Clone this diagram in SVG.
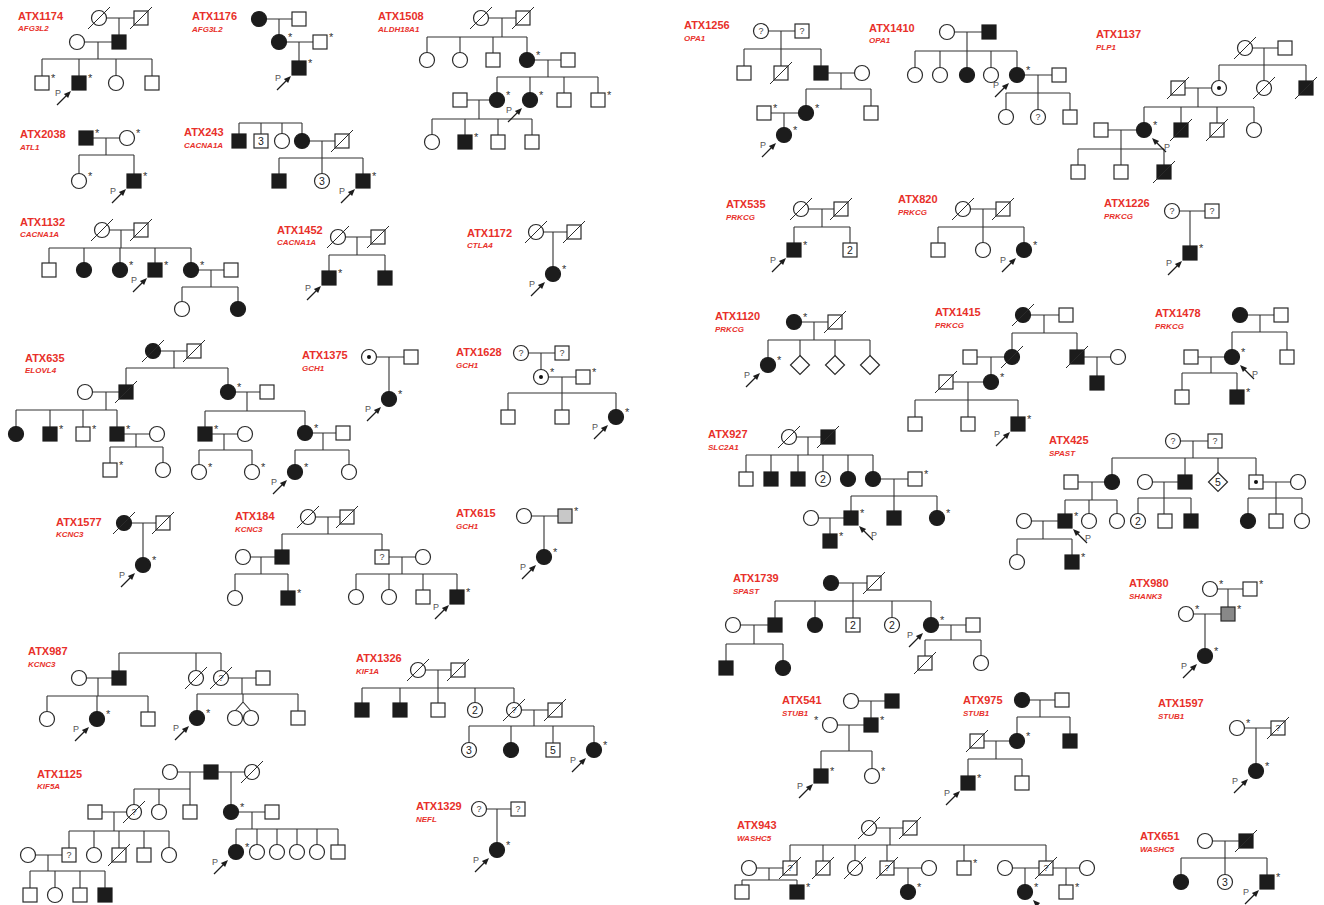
<svg xmlns="http://www.w3.org/2000/svg" xmlns:xlink="http://www.w3.org/1999/xlink" width="1324" height="905" viewBox="0 0 1324 905">
<style>
.o{fill:#fff;stroke:#2a2a2a;stroke-width:1.2}
.k{fill:#1c1c1c;stroke:#1c1c1c;stroke-width:1.2}
.g1{fill:#c8c8c8;stroke:#2a2a2a;stroke-width:1.2}
.g2{fill:#888;stroke:#2a2a2a;stroke-width:1.2}
.sl{stroke:#2a2a2a;stroke-width:1}
.ar{stroke:#1c1c1c;stroke-width:1.2}
.ah{fill:#1c1c1c}
.pt{font-family:"Liberation Sans",Arial,sans-serif;font-size:9px;fill:#555}
.as{font-family:"Liberation Sans",Arial,sans-serif;font-size:11px;fill:#333}
.n{font-family:"Liberation Sans",Arial,sans-serif;font-size:10.5px;fill:#222;text-anchor:middle}
.q{font-family:"Liberation Sans",Arial,sans-serif;font-size:9px;fill:#444;text-anchor:middle}
.t{font-family:"Liberation Sans",Arial,sans-serif;font-size:11px;font-weight:bold;fill:#e8302a}
.ge{font-family:"Liberation Sans",Arial,sans-serif;font-size:8px;font-weight:bold;font-style:italic;fill:#e8302a}
</style>
<defs>
<rect id="m" x="-7" y="-7" width="14" height="14" class="o"/>
<rect id="M" x="-7" y="-7" width="14" height="14" class="k"/>
<circle id="f" r="7.5" class="o"/>
<circle id="F" r="7.5" class="k"/>
<path id="d" d="M0,-9.5L9.5,0L0,9.5L-9.5,0Z" class="o"/>
<line id="x" x1="-11" y1="11" x2="11" y2="-11" class="sl"/>
<circle id="c" r="2" fill="#111"/>
<text id="a" x="9" y="-1" class="as">*</text>
<text id="al" x="-16" y="-1" class="as">*</text>
<g id="p"><line x1="-22" y1="22" x2="-12" y2="12" class="ar"/><path d="M-8,8L-10.9,15.1L-15.1,10.9Z" class="ah"/><text x="-24" y="13" class="pt">P</text></g>
<g id="r"><line x1="22" y1="22" x2="12" y2="12" class="ar"/><path d="M8,8L10.9,15.1L15.1,10.9Z" class="ah"/><text x="20" y="20" class="pt">P</text></g>
</defs>
<rect width="1324" height="905" fill="#fff"/>

<g id="labels">
<text class="t" x="18" y="19.5">ATX1174</text><text class="ge" x="18" y="31">AFG3L2</text>
<text class="t" x="192" y="20">ATX1176</text><text class="ge" x="192" y="31.5">AFG3L2</text>
<text class="t" x="378" y="20">ATX1508</text><text class="ge" x="378" y="31.5">ALDH18A1</text>
<text class="t" x="20" y="138">ATX2038</text><text class="ge" x="20" y="149.5">ATL1</text>
<text class="t" x="184" y="136">ATX243</text><text class="ge" x="184" y="147.5">CACNA1A</text>
<text class="t" x="20" y="225.5">ATX1132</text><text class="ge" x="20" y="237">CACNA1A</text>
<text class="t" x="277" y="233.5">ATX1452</text><text class="ge" x="277" y="245">CACNA1A</text>
<text class="t" x="467" y="236.5">ATX1172</text><text class="ge" x="467" y="248">CTLA4</text>
<text class="t" x="25" y="361.5">ATX635</text><text class="ge" x="25" y="373">ELOVL4</text>
<text class="t" x="302" y="359">ATX1375</text><text class="ge" x="302" y="370.5">GCH1</text>
<text class="t" x="456" y="356">ATX1628</text><text class="ge" x="456" y="367.5">GCH1</text>
<text class="t" x="56" y="525.5">ATX1577</text><text class="ge" x="56" y="537">KCNC3</text>
<text class="t" x="235" y="520">ATX184</text><text class="ge" x="235" y="531.5">KCNC3</text>
<text class="t" x="456" y="517">ATX615</text><text class="ge" x="456" y="528.5">GCH1</text>
<text class="t" x="28" y="655">ATX987</text><text class="ge" x="28" y="666.5">KCNC3</text>
<text class="t" x="37" y="777.5">ATX1125</text><text class="ge" x="37" y="789">KIF5A</text>
<text class="t" x="356" y="662">ATX1326</text><text class="ge" x="356" y="673.5">KIF1A</text>
<text class="t" x="416" y="810">ATX1329</text><text class="ge" x="416" y="821.5">NEFL</text>
<text class="t" x="684" y="29">ATX1256</text><text class="ge" x="684" y="40.5">OPA1</text>
<text class="t" x="869" y="31.5">ATX1410</text><text class="ge" x="869" y="43">OPA1</text>
<text class="t" x="1096" y="38">ATX1137</text><text class="ge" x="1096" y="49.5">PLP1</text>
<text class="t" x="726" y="208">ATX535</text><text class="ge" x="726" y="219.5">PRKCG</text>
<text class="t" x="898" y="203">ATX820</text><text class="ge" x="898" y="214.5">PRKCG</text>
<text class="t" x="1104" y="207">ATX1226</text><text class="ge" x="1104" y="218.5">PRKCG</text>
<text class="t" x="715" y="320">ATX1120</text><text class="ge" x="715" y="331.5">PRKCG</text>
<text class="t" x="935" y="316">ATX1415</text><text class="ge" x="935" y="327.5">PRKCG</text>
<text class="t" x="1155" y="317">ATX1478</text><text class="ge" x="1155" y="328.5">PRKCG</text>
<text class="t" x="708" y="438">ATX927</text><text class="ge" x="708" y="449.5">SLC2A1</text>
<text class="t" x="1049" y="444">ATX425</text><text class="ge" x="1049" y="455.5">SPAST</text>
<text class="t" x="733" y="582">ATX1739</text><text class="ge" x="733" y="593.5">SPAST</text>
<text class="t" x="1129" y="587">ATX980</text><text class="ge" x="1129" y="598.5">SHANK3</text>
<text class="t" x="782" y="704">ATX541</text><text class="ge" x="782" y="715.5">STUB1</text>
<text class="t" x="963" y="704">ATX975</text><text class="ge" x="963" y="715.5">STUB1</text>
<text class="t" x="1158" y="707">ATX1597</text><text class="ge" x="1158" y="718.5">STUB1</text>
<text class="t" x="737" y="829">ATX943</text><text class="ge" x="737" y="840.5">WASHC5</text>
<text class="t" x="1140" y="840">ATX651</text><text class="ge" x="1140" y="851.5">WASHC5</text>
</g>

<g id="connectors" fill="none" stroke="#333" stroke-width="1.1">
<path d="M99,18H141M119,18V42M77,42H119M98,42V59M42,59H152M42,59V83M79,59V83M116,59V83M152,59V83"/>
<path d="M259,19H299M279,19V42M279,42H320M299,42V68"/>
<path d="M86,138H127M106,138V155M79,155H134M79,155V181M134,155V181"/>
<path d="M239,123H302M239,123V141M261,123V141M282,123V141M302,123V141M302,141H342M322,141V158M279,158H363M279,158V181M322,158V181M363,158V181"/>
<path d="M481,18H523M502,18V37M427,37H527M427,37V60M460,37V60M493,37V60M527,37V60M527,60H568M548,60V77M497,77H598M497,77V100M530,77V100M564,77V100M598,77V100M460,100H497M479,100V119M432,119H532M432,119V142M465,119V142M498,119V142M532,119V142"/>
<path d="M102,230H141M121,230V248M49,248H191M49,248V270M84,248V270M120,248V270M155,248V270M191,248V270M191,270H231M211,270V287M182,287H238M182,287V309M238,287V309"/>
<path d="M338,237H378M357,237V255M329,255H385M329,255V278M385,255V278"/>
<path d="M536,232H574M553,232V274"/>
<path d="M153,351H194M174,351V368M126,368H228M126,368V392M228,368V392M85,392H126M106,392V410M16,410H117M16,410V434M50,410V434M83,410V434M117,410V434M228,392H267M247,392V411M205,411H305M205,411V434M305,411V433M117,434H157M136,434V447M110,447H163M110,447V470M163,447V470M205,434H245M224,434V450M199,450H252M199,450V472M252,450V472M305,433H343M323,433V450M295,450H349M295,450V472M349,450V472"/>
<path d="M369,357H411M389,357V399"/>
<path d="M521,353H562M541,353V377M541,377H583M562,377V393M508,393H616M508,393V417M562,393V417M616,393V417"/>
<path d="M124,523H163M143,523V565"/>
<path d="M308,517H347M328,517V534M282,534H382M282,534V557M382,534V557M243,557H282M261,557V574M235,574H288M235,574V598M288,574V598M382,557H423M402,557V574M356,574H457M356,574V597M389,574V597M423,574V597M457,574V597"/>
<path d="M524,516H565M544,516V557"/>
<path d="M119,653H221M119,653V678M196,653V678M221,653V678M79,678H119M98,678V696M47,696H148M47,696V719M97,696V719M148,696V719M221,678H263M242,678V694M197,694H298M197,694V718M298,694V718M243,694V702L235,711M243,702L251,711"/>
<path d="M170,772H252M190,772V812M134,789H190M134,789V812M159,789V812M95,812H134M114,812V831M69,831H169M69,831V855M94,831V855M119,831V855M144,831V855M169,831V855M28,855H69M48,855V871M30,871H105M30,871V895M55,871V895M80,871V895M105,871V895M231,772V812M231,812H272M252,812V829M236,829H338M236,829V852M257,829V852M277,829V852M297,829V852M317,829V852M338,829V852"/>
<path d="M418,670H458M438,670V688M362,688H514M362,688V710M400,688V710M438,688V710M475,688V710M514,688V710M514,710H555M534,710V726M469,726H594M469,726V750M511,726V750M553,726V750M594,726V750"/>
<path d="M479,809H518M497,809V850"/>
<path d="M761,31H802M781,31V73M744,49H821M744,49V73M821,49V73M821,73H862M841,73V89M806,89H871M806,89V113M871,89V113M764,113H806M784,113V135"/>
<path d="M947,32H989M967,32V75M915,51H1017M915,51V75M940,51V75M991,51V75M1017,51V75M1017,75H1059M1038,75V117M1006,93H1070M1006,93V117M1070,93V117"/>
<path d="M1245,48H1285M1264,48V88M1219,65H1306M1219,65V88M1306,65V88M1178,88H1219M1198,88V107M1144,107H1254M1144,107V130M1181,107V130M1217,107V130M1254,107V130M1101,130H1144M1121,130V172M1078,149H1164M1078,149V172M1164,149V172"/>
<path d="M801,209H841M822,209V227M794,227H850M794,227V250M850,227V250"/>
<path d="M963,209H1003M983,209V250M938,227H1024M938,227V250M1024,227V250"/>
<path d="M1172,211H1212M1190,211V253"/>
<path d="M794,322H835M814,322V340M768,340H870M768,340V365M800,340V365M835,340V365M870,340V365"/>
<path d="M1023,315H1066M1044,315V333M1012,333H1077M1012,333V357M1077,333V357M970,357H1012M991,357V382M1077,357H1118M1097,357V383M946,382H991M968,382V424M915,400H1018M915,400V424M1018,400V424"/>
<path d="M1240,315H1281M1260,315V332M1232,332H1287M1232,332V357M1287,332V357M1191,357H1232M1211,357V373M1182,373H1237M1182,373V397M1237,373V397"/>
<path d="M789,437H828M808,437V455M746,455H873M746,455V479M771,455V479M798,455V479M823,455V479M848,455V479M873,455V479M873,479H915M894,479V518M851,496H937M851,496V518M937,496V518M811,518H851M830,518V541"/>
<path d="M1173,441H1215M1193,441V458M1112,458H1256M1112,458V482M1185,458V482M1218,458V482M1256,458V482M1071,482H1112M1092,482V500M1065,500H1117M1065,500V521M1089,500V521M1117,500V521M1024,521H1065M1043,521V539M1017,539H1072M1017,539V562M1072,539V562M1145,482H1185M1164,482V521M1138,498H1191M1138,498V521M1191,498V521M1256,482H1298M1276,482V521M1248,498H1302M1248,498V521M1302,498V521"/>
<path d="M831,583H874M853,583V625M775,601H931M775,601V625M815,601V625M892,601V625M931,601V625M733,625H775M754,625V644M726,644H783M726,644V668M783,644V668M931,625H973M951,625V640M925,640H981M925,640V663M981,640V663"/>
<path d="M1210,589H1250M1228,589V614M1186,614H1228M1205,614V656"/>
<path d="M851,701H892M871,701V725M830,725H871M849,725V751M821,751H872M821,751V776M872,751V776"/>
<path d="M1022,700H1062M1040,700V717M1017,717H1070M1017,717V741M1070,717V741M977,741H1017M996,741V759M968,759H1022M968,759V783M1022,759V783"/>
<path d="M1237,728H1278M1256,728V771"/>
<path d="M869,828H910M890,828V845M790,845H1046M790,845V868M823,845V868M855,845V868M887,845V868M964,845V868M1046,845V868M749,868H790M769,868V880M742,880H797M742,880V892M797,880V892M887,868H929M908,868V892M1005,868H1087M1025,868V892M1066,868V892"/>
<path d="M1205,841H1246M1225,841V882M1181,858H1267M1181,858V882M1267,858V882"/>
</g>

<g id="ATX1174">
<g id="p1174-1" transform="translate(99 18)"><use href="#f"/><use href="#x"/></g>
<g id="p1174-2" transform="translate(141 18)"><use href="#m"/><use href="#x"/></g>
<g id="p1174-3" transform="translate(77 42)"><use href="#f"/></g>
<g id="p1174-4" transform="translate(119 42)"><use href="#M"/></g>
<g id="p1174-5" transform="translate(42 83)"><use href="#m"/><use href="#a"/></g>
<g id="p1174-6" transform="translate(79 83)"><use href="#M"/><use href="#a"/><use href="#p"/></g>
<g id="p1174-7" transform="translate(116 83)"><use href="#f"/></g>
<g id="p1174-8" transform="translate(152 83)"><use href="#m"/></g>
</g>
<g id="ATX1176">
<g id="p1176-1" transform="translate(259 19)"><use href="#F"/></g>
<g id="p1176-2" transform="translate(299 19)"><use href="#m"/></g>
<g id="p1176-3" transform="translate(279 42)"><use href="#F"/><use href="#a"/></g>
<g id="p1176-4" transform="translate(320 42)"><use href="#m"/><use href="#a"/></g>
<g id="p1176-5" transform="translate(299 68)"><use href="#M"/><use href="#a"/><use href="#p"/></g>
</g>
<g id="ATX2038">
<g id="p2038-1" transform="translate(86 138)"><use href="#M"/><use href="#a"/></g>
<g id="p2038-2" transform="translate(127 138)"><use href="#f"/><use href="#a"/></g>
<g id="p2038-3" transform="translate(79 181)"><use href="#f"/><use href="#a"/></g>
<g id="p2038-4" transform="translate(134 181)"><use href="#M"/><use href="#a"/><use href="#p"/></g>
</g>
<g id="ATX243">
<g id="p243-1" transform="translate(239 141)"><use href="#M"/></g>
<g id="p243-2" transform="translate(261 141)"><use href="#m"/><text class="n" y="3.8">3</text></g>
<g id="p243-3" transform="translate(282 141)"><use href="#f"/></g>
<g id="p243-4" transform="translate(302 141)"><use href="#F"/></g>
<g id="p243-5" transform="translate(342 141)"><use href="#m"/><use href="#x"/></g>
<g id="p243-6" transform="translate(279 181)"><use href="#M"/></g>
<g id="p243-7" transform="translate(322 181)"><use href="#f"/><text class="n" y="3.8">3</text></g>
<g id="p243-8" transform="translate(363 181)"><use href="#M"/><use href="#a"/><use href="#p"/></g>
</g>
<g id="ATX1508">
<g id="p1508-1" transform="translate(481 18)"><use href="#f"/><use href="#x"/></g>
<g id="p1508-2" transform="translate(523 18)"><use href="#m"/><use href="#x"/></g>
<g id="p1508-3" transform="translate(427 60)"><use href="#f"/></g>
<g id="p1508-4" transform="translate(460 60)"><use href="#f"/></g>
<g id="p1508-5" transform="translate(493 60)"><use href="#m"/></g>
<g id="p1508-6" transform="translate(527 60)"><use href="#F"/><use href="#a"/></g>
<g id="p1508-7" transform="translate(568 60)"><use href="#m"/></g>
<g id="p1508-8" transform="translate(460 100)"><use href="#m"/></g>
<g id="p1508-9" transform="translate(497 100)"><use href="#F"/><use href="#a"/></g>
<g id="p1508-10" transform="translate(530 100)"><use href="#F"/><use href="#a"/><use href="#p"/></g>
<g id="p1508-11" transform="translate(564 100)"><use href="#m"/></g>
<g id="p1508-12" transform="translate(598 100)"><use href="#m"/><use href="#a"/></g>
<g id="p1508-13" transform="translate(432 142)"><use href="#f"/></g>
<g id="p1508-14" transform="translate(465 142)"><use href="#M"/><use href="#a"/></g>
<g id="p1508-15" transform="translate(498 142)"><use href="#m"/></g>
<g id="p1508-16" transform="translate(532 142)"><use href="#m"/></g>
</g>
<g id="ATX1132">
<g id="p1132-1" transform="translate(102 230)"><use href="#f"/><use href="#x"/></g>
<g id="p1132-2" transform="translate(141 230)"><use href="#m"/><use href="#x"/></g>
<g id="p1132-3" transform="translate(49 270)"><use href="#m"/></g>
<g id="p1132-4" transform="translate(84 270)"><use href="#F"/></g>
<g id="p1132-5" transform="translate(120 270)"><use href="#F"/><use href="#a"/></g>
<g id="p1132-6" transform="translate(155 270)"><use href="#M"/><use href="#a"/><use href="#p"/></g>
<g id="p1132-7" transform="translate(191 270)"><use href="#F"/><use href="#a"/></g>
<g id="p1132-8" transform="translate(231 270)"><use href="#m"/></g>
<g id="p1132-9" transform="translate(182 309)"><use href="#f"/></g>
<g id="p1132-10" transform="translate(238 309)"><use href="#F"/></g>
</g>
<g id="ATX1452">
<g id="p1452-1" transform="translate(338 237)"><use href="#f"/><use href="#x"/></g>
<g id="p1452-2" transform="translate(378 237)"><use href="#m"/><use href="#x"/></g>
<g id="p1452-3" transform="translate(329 278)"><use href="#M"/><use href="#a"/><use href="#p"/></g>
<g id="p1452-4" transform="translate(385 278)"><use href="#M"/></g>
</g>
<g id="ATX1172">
<g id="p1172-1" transform="translate(536 232)"><use href="#f"/><use href="#x"/></g>
<g id="p1172-2" transform="translate(574 232)"><use href="#m"/><use href="#x"/></g>
<g id="p1172-3" transform="translate(553 274)"><use href="#F"/><use href="#a"/><use href="#p"/></g>
</g>
<g id="ATX635">
<g id="p635-1" transform="translate(153 351)"><use href="#F"/><use href="#x"/></g>
<g id="p635-2" transform="translate(194 351)"><use href="#m"/><use href="#x"/></g>
<g id="p635-3" transform="translate(85 392)"><use href="#f"/></g>
<g id="p635-4" transform="translate(126 392)"><use href="#M"/><use href="#x"/></g>
<g id="p635-5" transform="translate(228 392)"><use href="#F"/><use href="#a"/></g>
<g id="p635-6" transform="translate(267 392)"><use href="#m"/></g>
<g id="p635-7" transform="translate(16 434)"><use href="#F"/></g>
<g id="p635-8" transform="translate(50 434)"><use href="#M"/><use href="#a"/></g>
<g id="p635-9" transform="translate(83 434)"><use href="#m"/><use href="#a"/></g>
<g id="p635-10" transform="translate(117 434)"><use href="#M"/><use href="#a"/></g>
<g id="p635-11" transform="translate(157 434)"><use href="#f"/></g>
<g id="p635-12" transform="translate(110 470)"><use href="#m"/><use href="#a"/></g>
<g id="p635-13" transform="translate(163 470)"><use href="#f"/></g>
<g id="p635-14" transform="translate(205 434)"><use href="#M"/><use href="#a"/></g>
<g id="p635-15" transform="translate(245 434)"><use href="#f"/></g>
<g id="p635-16" transform="translate(199 472)"><use href="#f"/><use href="#a"/></g>
<g id="p635-17" transform="translate(252 472)"><use href="#f"/><use href="#a"/></g>
<g id="p635-18" transform="translate(305 433)"><use href="#F"/><use href="#a"/></g>
<g id="p635-19" transform="translate(343 433)"><use href="#m"/></g>
<g id="p635-20" transform="translate(295 472)"><use href="#F"/><use href="#a"/><use href="#p"/></g>
<g id="p635-21" transform="translate(349 472)"><use href="#f"/></g>
</g>
<g id="ATX1375">
<g id="p1375-1" transform="translate(369 357)"><use href="#f"/><use href="#c"/></g>
<g id="p1375-2" transform="translate(411 357)"><use href="#m"/></g>
<g id="p1375-3" transform="translate(389 399)"><use href="#F"/><use href="#a"/><use href="#p"/></g>
</g>
<g id="ATX1628">
<g id="p1628-1" transform="translate(521 353)"><use href="#f"/><text class="q" y="3.2">?</text></g>
<g id="p1628-2" transform="translate(562 353)"><use href="#m"/><text class="q" y="3.2">?</text></g>
<g id="p1628-3" transform="translate(541 377)"><use href="#f"/><use href="#c"/><use href="#a"/></g>
<g id="p1628-4" transform="translate(583 377)"><use href="#m"/><use href="#a"/></g>
<g id="p1628-5" transform="translate(508 417)"><use href="#m"/></g>
<g id="p1628-6" transform="translate(562 417)"><use href="#m"/></g>
<g id="p1628-7" transform="translate(616 417)"><use href="#F"/><use href="#a"/><use href="#p"/></g>
</g>
<g id="ATX1577">
<g id="p1577-1" transform="translate(124 523)"><use href="#F"/><use href="#x"/></g>
<g id="p1577-2" transform="translate(163 523)"><use href="#m"/><use href="#x"/></g>
<g id="p1577-3" transform="translate(143 565)"><use href="#F"/><use href="#a"/><use href="#p"/></g>
</g>
<g id="ATX184">
<g id="p184-1" transform="translate(308 517)"><use href="#f"/><use href="#x"/></g>
<g id="p184-2" transform="translate(347 517)"><use href="#m"/><use href="#x"/></g>
<g id="p184-3" transform="translate(243 557)"><use href="#f"/></g>
<g id="p184-4" transform="translate(282 557)"><use href="#M"/></g>
<g id="p184-5" transform="translate(235 598)"><use href="#f"/></g>
<g id="p184-6" transform="translate(288 598)"><use href="#M"/><use href="#a"/></g>
<g id="p184-7" transform="translate(382 557)"><use href="#m"/><text class="q" y="3.2">?</text></g>
<g id="p184-8" transform="translate(423 557)"><use href="#f"/></g>
<g id="p184-9" transform="translate(356 597)"><use href="#f"/></g>
<g id="p184-10" transform="translate(389 597)"><use href="#f"/></g>
<g id="p184-11" transform="translate(423 597)"><use href="#m"/></g>
<g id="p184-12" transform="translate(457 597)"><use href="#M"/><use href="#a"/><use href="#p"/></g>
</g>
<g id="ATX615">
<g id="p615-1" transform="translate(524 516)"><use href="#f"/></g>
<g id="p615-2" transform="translate(565 516)"><rect x="-7" y="-7" width="14" height="14" class="g1"/><use href="#a"/></g>
<g id="p615-3" transform="translate(544 557)"><use href="#F"/><use href="#a"/><use href="#p"/></g>
</g>
<g id="ATX987">
<g id="p987-1" transform="translate(79 678)"><use href="#f"/></g>
<g id="p987-2" transform="translate(119 678)"><use href="#M"/></g>
<g id="p987-3" transform="translate(196 678)"><use href="#f"/><use href="#x"/></g>
<g id="p987-4" transform="translate(221 678)"><use href="#f"/><text class="q" y="3.2">?</text><use href="#x"/></g>
<g id="p987-5" transform="translate(263 678)"><use href="#m"/></g>
<g id="p987-6" transform="translate(47 719)"><use href="#f"/></g>
<g id="p987-7" transform="translate(97 719)"><use href="#F"/><use href="#a"/><use href="#p"/></g>
<g id="p987-8" transform="translate(148 719)"><use href="#m"/></g>
<g id="p987-9" transform="translate(197 718)"><use href="#F"/><use href="#a"/><use href="#p"/></g>
<g id="p987-10" transform="translate(235 718)"><use href="#f"/></g>
<g id="p987-11" transform="translate(251 718)"><use href="#f"/></g>
<g id="p987-12" transform="translate(298 718)"><use href="#m"/></g>
</g>
<g id="ATX1125">
<g id="p1125-1" transform="translate(170 772)"><use href="#f"/></g>
<g id="p1125-2" transform="translate(211 772)"><use href="#M"/></g>
<g id="p1125-3" transform="translate(252 772)"><use href="#f"/><use href="#x"/></g>
<g id="p1125-4" transform="translate(95 812)"><use href="#m"/></g>
<g id="p1125-5" transform="translate(134 812)"><use href="#f"/><text class="q" y="3.2">?</text><use href="#x"/></g>
<g id="p1125-6" transform="translate(159 812)"><use href="#f"/></g>
<g id="p1125-7" transform="translate(190 812)"><use href="#m"/></g>
<g id="p1125-8" transform="translate(28 855)"><use href="#f"/></g>
<g id="p1125-9" transform="translate(69 855)"><use href="#m"/><text class="q" y="3.2">?</text></g>
<g id="p1125-10" transform="translate(94 855)"><use href="#f"/></g>
<g id="p1125-11" transform="translate(119 855)"><use href="#m"/><use href="#x"/></g>
<g id="p1125-12" transform="translate(144 855)"><use href="#m"/></g>
<g id="p1125-13" transform="translate(169 855)"><use href="#f"/></g>
<g id="p1125-14" transform="translate(30 895)"><use href="#m"/></g>
<g id="p1125-15" transform="translate(55 895)"><use href="#f"/></g>
<g id="p1125-16" transform="translate(80 895)"><use href="#m"/></g>
<g id="p1125-17" transform="translate(105 895)"><use href="#M"/></g>
<g id="p1125-18" transform="translate(231 812)"><use href="#F"/><use href="#a"/></g>
<g id="p1125-19" transform="translate(272 812)"><use href="#m"/></g>
<g id="p1125-20" transform="translate(236 852)"><use href="#F"/><use href="#a"/><use href="#p"/></g>
<g id="p1125-21" transform="translate(257 852)"><use href="#f"/></g>
<g id="p1125-22" transform="translate(277 852)"><use href="#f"/></g>
<g id="p1125-23" transform="translate(297 852)"><use href="#f"/></g>
<g id="p1125-24" transform="translate(317 852)"><use href="#f"/></g>
<g id="p1125-25" transform="translate(338 852)"><use href="#m"/></g>
</g>
<g id="ATX1326">
<g id="p1326-1" transform="translate(418 670)"><use href="#f"/><use href="#x"/></g>
<g id="p1326-2" transform="translate(458 670)"><use href="#m"/><use href="#x"/></g>
<g id="p1326-3" transform="translate(362 710)"><use href="#M"/></g>
<g id="p1326-4" transform="translate(400 710)"><use href="#M"/></g>
<g id="p1326-5" transform="translate(438 710)"><use href="#m"/></g>
<g id="p1326-6" transform="translate(475 710)"><use href="#f"/><text class="n" y="3.8">2</text></g>
<g id="p1326-7" transform="translate(514 710)"><use href="#f"/><text class="q" y="3.2">?</text><use href="#x"/></g>
<g id="p1326-8" transform="translate(555 710)"><use href="#m"/><use href="#x"/></g>
<g id="p1326-9" transform="translate(469 750)"><use href="#f"/><text class="n" y="3.8">3</text></g>
<g id="p1326-10" transform="translate(511 750)"><use href="#F"/></g>
<g id="p1326-11" transform="translate(553 750)"><use href="#m"/><text class="n" y="3.8">5</text></g>
<g id="p1326-12" transform="translate(594 750)"><use href="#F"/><use href="#a"/><use href="#p"/></g>
</g>
<g id="ATX1329">
<g id="p1329-1" transform="translate(479 809)"><use href="#f"/><text class="q" y="3.2">?</text></g>
<g id="p1329-2" transform="translate(518 809)"><use href="#m"/><text class="q" y="3.2">?</text></g>
<g id="p1329-3" transform="translate(497 850)"><use href="#F"/><use href="#a"/><use href="#p"/></g>
</g>
<g id="ATX1256">
<g id="p1256-1" transform="translate(761 31)"><use href="#f"/><text class="q" y="3.2">?</text></g>
<g id="p1256-2" transform="translate(802 31)"><use href="#m"/><text class="q" y="3.2">?</text></g>
<g id="p1256-3" transform="translate(744 73)"><use href="#m"/></g>
<g id="p1256-4" transform="translate(781 73)"><use href="#m"/><use href="#x"/></g>
<g id="p1256-5" transform="translate(821 73)"><use href="#M"/></g>
<g id="p1256-6" transform="translate(862 73)"><use href="#f"/></g>
<g id="p1256-7" transform="translate(764 113)"><use href="#m"/><use href="#a"/></g>
<g id="p1256-8" transform="translate(806 113)"><use href="#F"/><use href="#a"/></g>
<g id="p1256-9" transform="translate(871 113)"><use href="#m"/></g>
<g id="p1256-10" transform="translate(784 135)"><use href="#F"/><use href="#a"/><use href="#p"/></g>
</g>
<g id="ATX1410">
<g id="p1410-1" transform="translate(947 32)"><use href="#f"/></g>
<g id="p1410-2" transform="translate(989 32)"><use href="#M"/></g>
<g id="p1410-3" transform="translate(915 75)"><use href="#f"/></g>
<g id="p1410-4" transform="translate(940 75)"><use href="#f"/></g>
<g id="p1410-5" transform="translate(967 75)"><use href="#F"/></g>
<g id="p1410-6" transform="translate(991 75)"><use href="#f"/></g>
<g id="p1410-7" transform="translate(1017 75)"><use href="#F"/><use href="#a"/><use href="#p"/></g>
<g id="p1410-8" transform="translate(1059 75)"><use href="#m"/></g>
<g id="p1410-9" transform="translate(1006 117)"><use href="#f"/></g>
<g id="p1410-10" transform="translate(1038 117)"><use href="#f"/><text class="q" y="3.2">?</text></g>
<g id="p1410-11" transform="translate(1070 117)"><use href="#m"/></g>
</g>
<g id="ATX1137">
<g id="p1137-1" transform="translate(1245 48)"><use href="#f"/><use href="#x"/></g>
<g id="p1137-2" transform="translate(1285 48)"><use href="#m"/></g>
<g id="p1137-3" transform="translate(1178 88)"><use href="#m"/><use href="#x"/></g>
<g id="p1137-4" transform="translate(1219 88)"><use href="#f"/><use href="#c"/></g>
<g id="p1137-5" transform="translate(1264 88)"><use href="#f"/><use href="#x"/></g>
<g id="p1137-6" transform="translate(1306 88)"><use href="#M"/><use href="#x"/></g>
<g id="p1137-7" transform="translate(1101 130)"><use href="#m"/></g>
<g id="p1137-8" transform="translate(1144 130)"><use href="#F"/><use href="#a"/><use href="#r"/></g>
<g id="p1137-9" transform="translate(1181 130)"><use href="#M"/><use href="#x"/></g>
<g id="p1137-10" transform="translate(1217 130)"><use href="#m"/><use href="#x"/></g>
<g id="p1137-11" transform="translate(1254 130)"><use href="#f"/></g>
<g id="p1137-12" transform="translate(1078 172)"><use href="#m"/></g>
<g id="p1137-13" transform="translate(1121 172)"><use href="#m"/></g>
<g id="p1137-14" transform="translate(1164 172)"><use href="#M"/><use href="#x"/></g>
</g>
<g id="ATX535">
<g id="p535-1" transform="translate(801 209)"><use href="#f"/><use href="#x"/></g>
<g id="p535-2" transform="translate(841 209)"><use href="#m"/><use href="#x"/></g>
<g id="p535-3" transform="translate(794 250)"><use href="#M"/><use href="#a"/><use href="#p"/></g>
<g id="p535-4" transform="translate(850 250)"><use href="#m"/><text class="n" y="3.8">2</text></g>
</g>
<g id="ATX820">
<g id="p820-1" transform="translate(963 209)"><use href="#f"/><use href="#x"/></g>
<g id="p820-2" transform="translate(1003 209)"><use href="#m"/><use href="#x"/></g>
<g id="p820-3" transform="translate(938 250)"><use href="#m"/></g>
<g id="p820-4" transform="translate(983 250)"><use href="#f"/></g>
<g id="p820-5" transform="translate(1024 250)"><use href="#F"/><use href="#a"/><use href="#p"/></g>
</g>
<g id="ATX1226">
<g id="p1226-1" transform="translate(1172 211)"><use href="#f"/><text class="q" y="3.2">?</text></g>
<g id="p1226-2" transform="translate(1212 211)"><use href="#m"/><text class="q" y="3.2">?</text></g>
<g id="p1226-3" transform="translate(1190 253)"><use href="#M"/><use href="#a"/><use href="#p"/></g>
</g>
<g id="ATX1120">
<g id="p1120-1" transform="translate(794 322)"><use href="#F"/><use href="#a"/></g>
<g id="p1120-2" transform="translate(835 322)"><use href="#m"/><use href="#x"/></g>
<g id="p1120-3" transform="translate(768 365)"><use href="#F"/><use href="#a"/><use href="#p"/></g>
<g id="p1120-4" transform="translate(800 365)"><use href="#d"/></g>
<g id="p1120-5" transform="translate(835 365)"><use href="#d"/></g>
<g id="p1120-6" transform="translate(870 365)"><use href="#d"/></g>
</g>
<g id="ATX1415">
<g id="p1415-1" transform="translate(1023 315)"><use href="#F"/><use href="#x"/></g>
<g id="p1415-2" transform="translate(1066 315)"><use href="#m"/></g>
<g id="p1415-3" transform="translate(970 357)"><use href="#m"/></g>
<g id="p1415-4" transform="translate(1012 357)"><use href="#F"/><use href="#x"/></g>
<g id="p1415-5" transform="translate(1077 357)"><use href="#M"/><use href="#x"/></g>
<g id="p1415-6" transform="translate(1118 357)"><use href="#f"/></g>
<g id="p1415-7" transform="translate(1097 383)"><use href="#M"/></g>
<g id="p1415-8" transform="translate(946 382)"><use href="#m"/><use href="#x"/></g>
<g id="p1415-9" transform="translate(991 382)"><use href="#F"/><use href="#a"/></g>
<g id="p1415-10" transform="translate(915 424)"><use href="#m"/></g>
<g id="p1415-11" transform="translate(968 424)"><use href="#m"/></g>
<g id="p1415-12" transform="translate(1018 424)"><use href="#M"/><use href="#a"/><use href="#p"/></g>
</g>
<g id="ATX1478">
<g id="p1478-1" transform="translate(1240 315)"><use href="#F"/></g>
<g id="p1478-2" transform="translate(1281 315)"><use href="#m"/></g>
<g id="p1478-3" transform="translate(1191 357)"><use href="#m"/></g>
<g id="p1478-4" transform="translate(1232 357)"><use href="#F"/><use href="#a"/><use href="#r"/></g>
<g id="p1478-5" transform="translate(1287 357)"><use href="#m"/></g>
<g id="p1478-6" transform="translate(1182 397)"><use href="#m"/></g>
<g id="p1478-7" transform="translate(1237 397)"><use href="#M"/><use href="#a"/></g>
</g>
<g id="ATX927">
<g id="p927-1" transform="translate(789 437)"><use href="#f"/><use href="#x"/></g>
<g id="p927-2" transform="translate(828 437)"><use href="#M"/><use href="#x"/></g>
<g id="p927-3" transform="translate(746 479)"><use href="#m"/></g>
<g id="p927-4" transform="translate(771 479)"><use href="#M"/></g>
<g id="p927-5" transform="translate(798 479)"><use href="#M"/></g>
<g id="p927-6" transform="translate(823 479)"><use href="#f"/><text class="n" y="3.8">2</text></g>
<g id="p927-7" transform="translate(848 479)"><use href="#F"/></g>
<g id="p927-8" transform="translate(873 479)"><use href="#F"/></g>
<g id="p927-9" transform="translate(915 479)"><use href="#m"/><use href="#a"/></g>
<g id="p927-10" transform="translate(811 518)"><use href="#f"/></g>
<g id="p927-11" transform="translate(851 518)"><use href="#M"/><use href="#a"/><use href="#r"/></g>
<g id="p927-12" transform="translate(894 518)"><use href="#M"/></g>
<g id="p927-13" transform="translate(937 518)"><use href="#F"/><use href="#a"/></g>
<g id="p927-14" transform="translate(830 541)"><use href="#M"/><use href="#a"/></g>
</g>
<g id="ATX425">
<g id="p425-1" transform="translate(1173 441)"><use href="#f"/><text class="q" y="3.2">?</text></g>
<g id="p425-2" transform="translate(1215 441)"><use href="#m"/><text class="q" y="3.2">?</text></g>
<g id="p425-3" transform="translate(1071 482)"><use href="#m"/></g>
<g id="p425-4" transform="translate(1112 482)"><use href="#F"/></g>
<g id="p425-5" transform="translate(1145 482)"><use href="#f"/></g>
<g id="p425-6" transform="translate(1185 482)"><use href="#M"/></g>
<g id="p425-7" transform="translate(1218 482)"><use href="#d"/><text class="n" y="3.8">5</text></g>
<g id="p425-8" transform="translate(1256 482)"><use href="#m"/><use href="#c"/></g>
<g id="p425-9" transform="translate(1298 482)"><use href="#f"/></g>
<g id="p425-10" transform="translate(1024 521)"><use href="#f"/></g>
<g id="p425-11" transform="translate(1065 521)"><use href="#M"/><use href="#a"/><use href="#r"/></g>
<g id="p425-12" transform="translate(1089 521)"><use href="#f"/></g>
<g id="p425-13" transform="translate(1117 521)"><use href="#f"/></g>
<g id="p425-14" transform="translate(1138 521)"><use href="#f"/><text class="n" y="3.8">2</text></g>
<g id="p425-15" transform="translate(1165 521)"><use href="#m"/></g>
<g id="p425-16" transform="translate(1191 521)"><use href="#M"/></g>
<g id="p425-17" transform="translate(1248 521)"><use href="#F"/></g>
<g id="p425-18" transform="translate(1276 521)"><use href="#m"/></g>
<g id="p425-19" transform="translate(1302 521)"><use href="#f"/></g>
<g id="p425-20" transform="translate(1017 562)"><use href="#f"/></g>
<g id="p425-21" transform="translate(1072 562)"><use href="#M"/><use href="#a"/></g>
</g>
<g id="ATX1739">
<g id="p1739-1" transform="translate(831 583)"><use href="#F"/></g>
<g id="p1739-2" transform="translate(874 583)"><use href="#m"/><use href="#x"/></g>
<g id="p1739-3" transform="translate(733 625)"><use href="#f"/></g>
<g id="p1739-4" transform="translate(775 625)"><use href="#M"/></g>
<g id="p1739-5" transform="translate(815 625)"><use href="#F"/></g>
<g id="p1739-6" transform="translate(853 625)"><use href="#m"/><text class="n" y="3.8">2</text></g>
<g id="p1739-7" transform="translate(892 625)"><use href="#f"/><text class="n" y="3.8">2</text></g>
<g id="p1739-8" transform="translate(931 625)"><use href="#F"/><use href="#a"/><use href="#p"/></g>
<g id="p1739-9" transform="translate(973 625)"><use href="#m"/></g>
<g id="p1739-10" transform="translate(726 668)"><use href="#M"/></g>
<g id="p1739-11" transform="translate(783 668)"><use href="#F"/></g>
<g id="p1739-12" transform="translate(925 663)"><use href="#m"/><use href="#x"/></g>
<g id="p1739-13" transform="translate(981 663)"><use href="#f"/></g>
</g>
<g id="ATX980">
<g id="p980-1" transform="translate(1210 589)"><use href="#f"/><use href="#a"/></g>
<g id="p980-2" transform="translate(1250 589)"><use href="#m"/><use href="#a"/></g>
<g id="p980-3" transform="translate(1186 614)"><use href="#f"/><use href="#a"/></g>
<g id="p980-4" transform="translate(1228 614)"><rect x="-7" y="-7" width="14" height="14" class="g2"/><use href="#a"/></g>
<g id="p980-5" transform="translate(1205 656)"><use href="#F"/><use href="#a"/><use href="#p"/></g>
</g>
<g id="ATX541">
<g id="p541-1" transform="translate(851 701)"><use href="#f"/></g>
<g id="p541-2" transform="translate(892 701)"><use href="#M"/></g>
<g id="p541-3" transform="translate(830 725)"><use href="#f"/><use href="#al"/></g>
<g id="p541-4" transform="translate(871 725)"><use href="#M"/><use href="#a"/></g>
<g id="p541-5" transform="translate(821 776)"><use href="#M"/><use href="#a"/><use href="#p"/></g>
<g id="p541-6" transform="translate(872 776)"><use href="#f"/><use href="#a"/></g>
</g>
<g id="ATX975">
<g id="p975-1" transform="translate(1022 700)"><use href="#F"/></g>
<g id="p975-2" transform="translate(1062 700)"><use href="#m"/></g>
<g id="p975-3" transform="translate(977 741)"><use href="#m"/><use href="#x"/></g>
<g id="p975-4" transform="translate(1017 741)"><use href="#F"/><use href="#a"/></g>
<g id="p975-5" transform="translate(1070 741)"><use href="#M"/></g>
<g id="p975-6" transform="translate(968 783)"><use href="#M"/><use href="#a"/><use href="#p"/></g>
<g id="p975-7" transform="translate(1022 783)"><use href="#m"/></g>
</g>
<g id="ATX1597">
<g id="p1597-1" transform="translate(1237 728)"><use href="#f"/><use href="#a"/></g>
<g id="p1597-2" transform="translate(1278 728)"><use href="#m"/><text class="q" y="3.2">?</text><use href="#x"/></g>
<g id="p1597-3" transform="translate(1256 771)"><use href="#F"/><use href="#a"/><use href="#p"/></g>
</g>
<g id="ATX943">
<g id="p943-1" transform="translate(869 828)"><use href="#f"/><use href="#x"/></g>
<g id="p943-2" transform="translate(910 828)"><use href="#m"/><use href="#x"/></g>
<g id="p943-3" transform="translate(749 868)"><use href="#f"/></g>
<g id="p943-4" transform="translate(790 868)"><use href="#m"/><text class="q" y="3.2">?</text><use href="#x"/></g>
<g id="p943-5" transform="translate(823 868)"><use href="#m"/><use href="#x"/></g>
<g id="p943-6" transform="translate(855 868)"><use href="#f"/><use href="#x"/></g>
<g id="p943-7" transform="translate(887 868)"><use href="#m"/><text class="q" y="3.2">?</text><use href="#x"/></g>
<g id="p943-8" transform="translate(929 868)"><use href="#f"/></g>
<g id="p943-9" transform="translate(964 868)"><use href="#m"/><use href="#a"/></g>
<g id="p943-10" transform="translate(1005 868)"><use href="#f"/></g>
<g id="p943-11" transform="translate(1046 868)"><use href="#m"/><text class="q" y="3.2">?</text><use href="#x"/></g>
<g id="p943-12" transform="translate(1087 868)"><use href="#f"/></g>
<g id="p943-13" transform="translate(742 892)"><use href="#m"/></g>
<g id="p943-14" transform="translate(797 892)"><use href="#M"/><use href="#a"/></g>
<g id="p943-15" transform="translate(908 892)"><use href="#F"/><use href="#a"/></g>
<g id="p943-16" transform="translate(1025 892)"><use href="#F"/><use href="#a"/><use href="#r"/></g>
<g id="p943-17" transform="translate(1066 892)"><use href="#m"/><use href="#a"/></g>
</g>
<g id="ATX651">
<g id="p651-1" transform="translate(1205 841)"><use href="#f"/></g>
<g id="p651-2" transform="translate(1246 841)"><use href="#M"/><use href="#x"/></g>
<g id="p651-3" transform="translate(1181 882)"><use href="#F"/></g>
<g id="p651-4" transform="translate(1225 882)"><use href="#f"/><text class="n" y="3.8">3</text></g>
<g id="p651-5" transform="translate(1267 882)"><use href="#M"/><use href="#a"/><use href="#p"/></g>
</g>
</svg>
